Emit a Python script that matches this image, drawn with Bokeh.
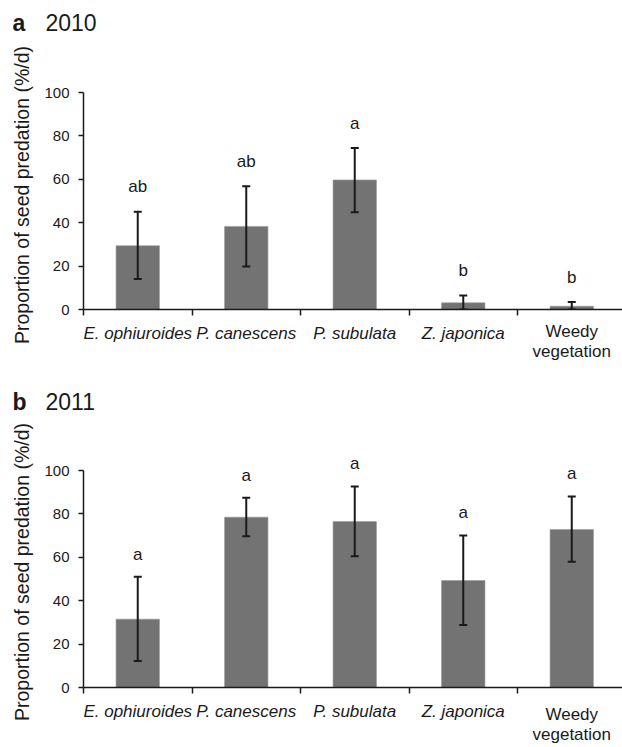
from bokeh.plotting import figure
from bokeh.models import (ColumnDataSource, Whisker, TeeHead, FixedTicker,
                          Range1d, LinearAxis)
from bokeh.core.properties import value
from bokeh.layouts import column
from bokeh.embed import file_html
from bokeh.resources import INLINE

# ---------------- data ----------------
species = ["E. ophiuroides", "P. canescens", "P. subulata", "Z. japonica"]
other_label = "Weedy\nvegetation"
category_index = [0, 1, 2, 3, 4]

mean_2010 = [29.4, 38.3, 59.7, 3.1, 1.5]
upper_2010 = [45.0, 56.8, 74.4, 6.5, 3.4]
lower_2010 = [14.0, 19.8, 44.8, 0.0, 0.0]
letters_2010 = ["ab", "ab", "a", "b", "b"]

mean_2011 = [31.5, 78.5, 76.5, 49.3, 72.8]
upper_2011 = [51.0, 87.4, 92.6, 70.0, 88.0]
lower_2011 = [12.2, 69.7, 60.5, 28.8, 58.0]
letters_2011 = ["a", "a", "a", "a", "a"]

y_ticks = [0, 20, 40, 60, 80, 100]
y_label = "Proportion of seed predation (%/d)"

# ---------------- style ----------------
FONT = "Liberation Sans"
DARK = "#1a1a1a"
BAR = "#737373"
W = 622
LEFT = 83
PX_PER_CAT = 108.5
X_END = (W - LEFT) / PX_PER_CAT
PX_PER_UNIT = 2.17


def bare(p):
    p.title.visible = False
    p.title.text_font_size = "0px"
    p.title.standoff = 0
    p.outline_line_color = None
    p.xgrid.visible = False
    p.ygrid.visible = False


def header(tag, year, height, center_from_top):
    p = figure(width=W, height=height, x_range=Range1d(0, W),
               y_range=Range1d(0, height), output_backend="svg",
               toolbar_location=None, min_border=0, frame_align=False,
               x_axis_type=None, y_axis_type=None)
    bare(p)
    yc = height - center_from_top
    p.text(x=[12], y=[yc], text=[tag], text_font=value(FONT),
           text_font_size=value("23px"), text_font_style="bold",
           text_baseline="middle", text_align="left", text_color=DARK)
    p.text(x=[45], y=[yc], text=[year], text_font=value(FONT),
           text_font_size=value("23px"), text_baseline="middle",
           text_align="left", text_color=DARK)
    return p


def make_panel(means, upper, lower, letters, height, top, bottom,
               weedy_standoff, letter_gap):
    centers = [i + 0.5 for i in category_index]
    frame_h = height - top - bottom
    p = figure(width=W, height=height, x_range=Range1d(0, X_END),
               y_range=Range1d(0, frame_h / PX_PER_UNIT), output_backend="svg",
               toolbar_location=None, min_border_left=LEFT,
               min_border_right=0, min_border_top=top,
               min_border_bottom=bottom, frame_align=False)
    bare(p)

    src = ColumnDataSource(dict(x=centers, top=means, upper=upper,
                                lower=lower, text=letters,
                                ty=[u + letter_gap for u in upper]))
    p.vbar(x="x", top="top", width=0.4, source=src, fill_color=BAR,
           line_color="#9a9a9a", line_width=0.6)
    p.add_layout(Whisker(base="x", upper="upper", lower="lower", source=src,
                         level="annotation", line_color=DARK, line_width=2,
                         upper_head=TeeHead(size=8, line_color=DARK, line_width=2),
                         lower_head=TeeHead(size=8, line_color=DARK, line_width=2)))
    p.text(x="x", y="ty", text="text", source=src, text_align="center",
           text_baseline="middle", text_font=value(FONT),
           text_font_size=value("17px"), text_color=DARK)

    # x axis: species names (italic) with ticks at category boundaries
    xa = p.xaxis[0]
    xa.ticker = FixedTicker(ticks=centers[:4],
                            minor_ticks=[float(i) for i in category_index] + [5.0])
    xa.major_label_overrides = {c: s for c, s in zip(centers[:4], species)}
    xa.major_tick_out = 0
    xa.major_tick_in = 0
    xa.major_tick_line_color = None
    xa.minor_tick_out = 6
    xa.minor_tick_in = 0
    xa.minor_tick_line_color = DARK
    xa.minor_tick_line_width = 1.5
    xa.axis_line_color = DARK
    xa.axis_line_width = 1.5
    xa.major_label_text_font = FONT
    xa.major_label_text_font_size = "17px"
    xa.major_label_text_font_style = "italic"
    xa.major_label_text_color = DARK
    xa.major_label_standoff = 8

    # second label row for the non-italic category
    xb = LinearAxis(ticker=FixedTicker(ticks=[centers[4]]),
                    major_label_overrides={centers[4]: other_label})
    xb.axis_line_color = None
    xb.major_tick_line_color = None
    xb.minor_tick_line_color = None
    xb.major_tick_out = 0
    xb.major_tick_in = 0
    xb.minor_tick_out = 0
    xb.minor_tick_in = 0
    xb.major_label_text_font = FONT
    xb.major_label_text_font_size = "17px"
    xb.major_label_text_font_style = "normal"
    xb.major_label_text_color = DARK
    xb.major_label_text_line_height = 1.1
    xb.major_label_standoff = weedy_standoff
    p.add_layout(xb, "below")

    # y axis
    ya = p.yaxis[0]
    ya.ticker = FixedTicker(ticks=y_ticks)
    ya.bounds = (0, 100)
    ya.major_tick_out = 5
    ya.major_tick_in = 0
    ya.minor_tick_out = 0
    ya.minor_tick_in = 0
    ya.major_tick_line_color = DARK
    ya.major_tick_line_width = 1.5
    ya.axis_line_color = DARK
    ya.axis_line_width = 1.5
    ya.major_label_text_font = FONT
    ya.major_label_text_font_size = "15px"
    ya.major_label_text_color = DARK
    ya.major_label_standoff = 9
    ya.axis_label = y_label
    ya.axis_label_text_font = FONT
    ya.axis_label_text_font_size = "19.5px"
    ya.axis_label_text_font_style = "normal"
    ya.axis_label_text_color = DARK
    ya.axis_label_standoff = 8
    return p


ha = header("a", "2010", height=40, center_from_top=22)
pa = make_panel(mean_2010, upper_2010, lower_2010, letters_2010,
                height=325, top=40, bottom=56, weedy_standoff=-24,
                letter_gap=11.5)
hb = header("b", "2011", height=57, center_from_top=36)
pb = make_panel(mean_2011, upper_2011, lower_2011, letters_2011,
                height=325, top=34, bottom=60, weedy_standoff=-19,
                letter_gap=10.5)

layout = column(ha, pa, hb, pb, spacing=0)
open("out.html", "w").write(file_html(layout, INLINE))
